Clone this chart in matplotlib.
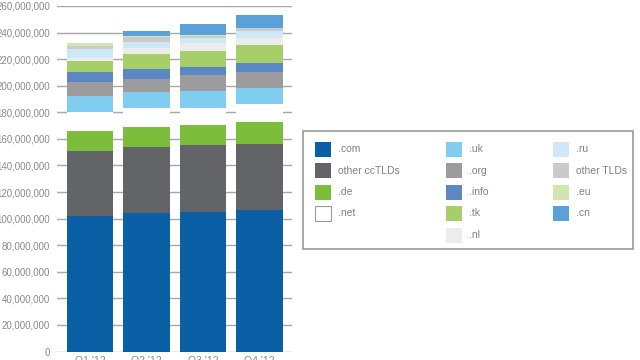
import matplotlib
matplotlib.use("Agg")
import matplotlib.pyplot as plt
from matplotlib.patches import Rectangle
from matplotlib.ticker import FuncFormatter, MultipleLocator
import numpy as np

quarters = ["Q1 '12", "Q2 '12", "Q3 '12", "Q4 '12"]

# values in millions of domains
com = [102.3, 104.0, 104.8, 106.3]
other_cc = [48.5, 49.8, 50.5, 50.1]
de = [15.1, 15.3, 15.5, 16.5]
net = [14.6, 13.9, 12.8, 13.0]
uk = [11.6, 12.2, 12.6, 12.6]
org = [10.4, 10.0, 11.5, 11.7]
info = [7.5, 7.6, 6.7, 6.7]
tk = [8.5, 10.8, 11.8, 13.9]
nl = [2.0, 4.5, 6.0, 5.0]
ru = [7.5, 5.0, 4.0, 5.5]
other_tlds = [2.0, 3.5, 1.5, 1.8]
eu = [2.5, 1.2, 0.8, 0.5]
cn = [0.0, 3.2, 7.7, 9.4]

series_names = [".com", "other ccTLDs", ".de", ".net", ".uk", ".org", ".info",
                ".tk", ".nl", ".ru", "other TLDs", ".eu", ".cn"]
series_values = [com, other_cc, de, net, uk, org, info, tk, nl, ru, other_tlds, eu, cn]
colors = ["#0a5fa5", "#636467", "#7dbd3c", "#ffffff", "#80cdf0", "#9c9c9f",
          "#5b87c4", "#a6cf69", "#ececec", "#cfe8f6", "#c9cacc", "#d1e5b0", "#5aa1da"]

# legend layout: columns of names
legend_cols = [[".com", "other ccTLDs", ".de", ".net"],
               [".uk", ".org", ".info", ".tk", ".nl"],
               [".ru", "other TLDs", ".eu", ".cn"]]

W, H = 640, 360
fig = plt.figure(figsize=(6.4, 3.6), dpi=100)
fig.patch.set_facecolor("white")
ax = fig.add_axes([57 / W, (H - 351.5) / H, 235 / W, (351.5 - 6) / H])

x = np.arange(len(quarters))
bottom = np.zeros(len(quarters))
for name, vals, c in zip(series_names, series_values, colors):
    v = np.array(vals)
    ax.bar(x, v, bottom=bottom, width=0.82, color=c, edgecolor="none", zorder=2)
    bottom += v

ax.set_xlim(-0.584, 3.575)
ax.set_ylim(0, 260)
ax.yaxis.set_major_locator(MultipleLocator(20))
ax.yaxis.set_major_formatter(FuncFormatter(lambda v, p: f"{int(round(v * 1e6)):,}"))
ax.grid(axis="y", color="#a8a8a8", linewidth=1.0, zorder=0)
ax.set_axisbelow(True)
for s in ax.spines.values():
    s.set_visible(False)
ax.tick_params(axis="y", length=0, pad=5, labelsize=7, labelcolor="#8a8a8a")
ax.tick_params(axis="x", length=0, pad=3, labelsize=7.5, labelcolor="#8a8a8a")
ax.set_xticks(x)
ax.set_xticklabels(quarters)
for t in ax.get_yticklabels() + ax.get_xticklabels():
    t.set_fontfamily("Liberation Sans")

# legend box (drawn in pixel-based figure coords)
def px(xp, yp):
    return xp / W, (H - yp) / H

bx0, by0, bx1, by1 = 303, 131, 633, 249
fig.add_artist(Rectangle(px(bx0, by1), (bx1 - bx0) / W, (by1 - by0) / H,
                         transform=fig.transFigure, facecolor="white",
                         edgecolor="#9a9a9a", linewidth=1.2))
col_sw_x = [315, 446, 553]
col_tx_x = [338, 469, 576]
row_y0, row_dy = 149, 21.5
sw_w, sw_h = 16, 15
name_to_color = dict(zip(series_names, colors))
for ci, col in enumerate(legend_cols):
    for ri, name in enumerate(col):
        yc = row_y0 + ri * row_dy
        ec = "#9a9a9a" if name == ".net" else "none"
        fig.add_artist(Rectangle(px(col_sw_x[ci], yc + sw_h / 2), sw_w / W, sw_h / H,
                                 transform=fig.transFigure,
                                 facecolor=name_to_color[name], edgecolor=ec,
                                 linewidth=0.8))
        fx, fy = px(col_tx_x[ci], yc)
        fig.text(fx, fy, name, ha="left", va="center", fontsize=7.5,
                 color="#808080", family="Liberation Sans")

fig.savefig("out.png", dpi=100, facecolor="white")
